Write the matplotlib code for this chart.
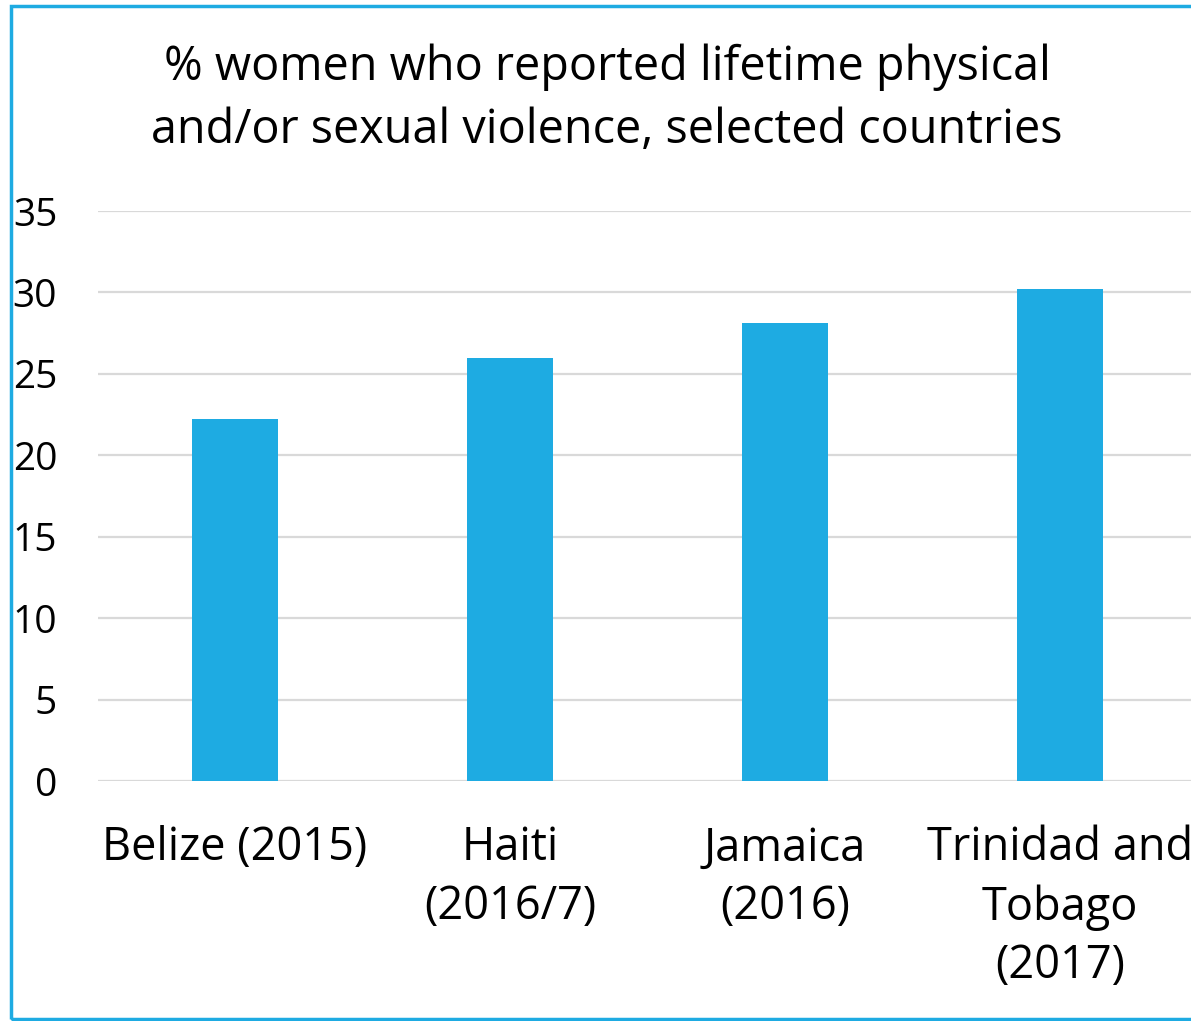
import matplotlib.pyplot as plt
from matplotlib.patches import Rectangle

categories = ["Belize (2015)", "Haiti\n(2016/7)", "Jamaica\n(2016)", "Trinidad and\nTobago\n(2017)"]
values = [22.2, 26.0, 28.1, 30.2]
yticks = [0, 5, 10, 15, 20, 25, 30, 35]
title_lines = ["% women who reported lifetime physical",
               "and/or sexual violence, selected countries"]

BLUE = "#1EABE2"
W, H = 1191, 1021

plt.rcParams["font.family"] = ["Open Sans", "DejaVu Sans"]

fig = plt.figure(figsize=(W / 100, H / 100), dpi=100)
ax = fig.add_axes([97.5 / W, (H - 781) / H, 1100 / W, 570 / H])

x = range(len(categories))
ax.bar(x, values, width=0.313, color=BLUE, zorder=3)

ax.set_xlim(-0.5, 3.5)
ax.set_ylim(0, 35)
ax.set_yticks(yticks)
ax.set_yticklabels([str(t) for t in yticks], fontsize=28)
ax.set_xticks(list(x))
ax.set_xticklabels(categories, fontsize=32.5, linespacing=1.36)
ax.tick_params(axis="both", length=0, colors="black")
ax.tick_params(axis="y", pad=29)
ax.tick_params(axis="x", pad=32)

ax.grid(axis="y", color="#D9D9D9", linewidth=1.6, zorder=0)
for s in ax.spines.values():
    s.set_visible(False)

for i, line in enumerate(title_lines):
    fig.text(607 / W, 1 - (80 + 63 * i) / H, line,
             ha="center", va="baseline", fontsize=33.7)

# blue frame around the chart (right side runs off the image)
fig.patches.append(Rectangle((11 / W, 2 / H), 1.2, 1 - 8 / H, transform=fig.transFigure,
                             fill=False, edgecolor=BLUE, linewidth=2.5))

fig.savefig("out.png", dpi=100)
